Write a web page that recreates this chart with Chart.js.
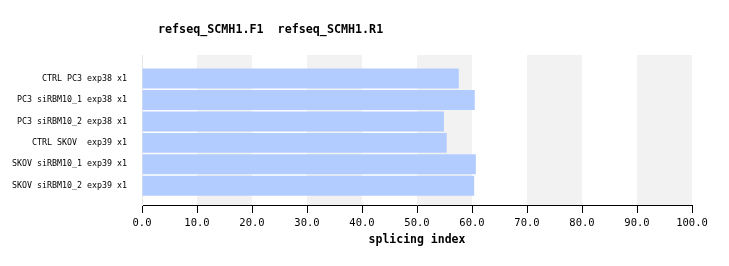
<!DOCTYPE html>
<html>
<head>
<meta charset="utf-8">
<script src="https://cdn.jsdelivr.net/npm/chart.js@4"></script>
<style>
  html, body { margin: 0; padding: 0; background: #fff; }
  #wrap { width: 729px; height: 266px; }
</style>
</head>
<body>
<div id="wrap"><canvas id="spliceChart" width="729" height="266"></canvas></div>
<script>
const samples = [
  "CTRL PC3 exp38 x1",
  "PC3 siRBM10_1 exp38 x1",
  "PC3 siRBM10_2 exp38 x1",
  "CTRL SKOV  exp39 x1",
  "SKOV siRBM10_1 exp39 x1",
  "SKOV siRBM10_2 exp39 x1"
];
const splicing = [57.6, 60.5, 54.9, 55.4, 60.7, 60.4];
const xTicks = [0, 10, 20, 30, 40, 50, 60, 70, 80, 90, 100];
const shadedBands = [[10, 20], [30, 40], [50, 60], [70, 80], [90, 100]];
const chartTitle = "refseq_SCMH1.F1  refseq_SCMH1.R1";
const axisTitle = "splicing index";

const mono = "'DejaVu Sans Mono', 'Liberation Mono', monospace";

// grey stripes behind the bars + the title line
const stripes = {
  id: "stripes",
  beforeDatasetsDraw(chart) {
    const { ctx, chartArea, scales } = chart;
    ctx.save();
    ctx.fillStyle = "#f2f2f2";
    shadedBands.forEach(([a, b]) => {
      const x0 = scales.x.getPixelForValue(a);
      const x1 = scales.x.getPixelForValue(b);
      ctx.fillRect(x0, chartArea.top, x1 - x0, chartArea.bottom - chartArea.top);
    });
    ctx.restore();
  },
  afterDraw(chart) {
    const { ctx, chartArea } = chart;
    ctx.save();
    ctx.font = "bold 11.7px " + mono;
    ctx.fillStyle = "#000";
    ctx.textBaseline = "middle";
    ctx.fillText(chartTitle, chartArea.left + 16, 30);
    ctx.restore();
  }
};

const chart = new Chart(document.getElementById("spliceChart"), {
  type: "bar",
  data: {
    datasets: [
      {
        data: splicing.map((v, i) => ({ x: v, y: i })),
        backgroundColor: "#b3ccff",
        borderWidth: 0,
        barPercentage: 0.93,
        categoryPercentage: 1.0
      }
    ]
  },
  options: {
    indexAxis: "y",
    responsive: false,
    animation: false,
    layout: { padding: { top: 55, right: 37, left: 0, bottom: 19 } },
    plugins: {
      legend: { display: false },
      tooltip: { enabled: false }
    },
    scales: {
      x: {
        type: "linear",
        min: 0,
        max: 100,
        afterBuildTicks: (scale) => { scale.ticks = xTicks.map((v) => ({ value: v })); },
        afterFit: (scale) => { scale.height = 42; },
        ticks: {
          color: "#000",
          font: { family: mono, size: 10.5 },
          padding: 4,
          maxRotation: 0,
          autoSkip: false,
          callback: (v) => v.toFixed(1)
        },
        grid: { drawOnChartArea: false, drawTicks: true, tickLength: 8, color: "#000" },
        border: { color: "#000", width: 1 },
        title: {
          display: true,
          text: axisTitle,
          color: "#000",
          font: { family: mono, size: 11.5, weight: "bold" },
          padding: { top: 4, bottom: 0 }
        }
      },
      y: {
        type: "linear",
        reverse: true,
        offset: false,
        min: -1.1,
        max: 5.9,
        afterBuildTicks: (scale) => { scale.ticks = samples.map((_, i) => ({ value: i })); },
        afterFit: (scale) => { scale.width = 142; },
        ticks: {
          color: "#000",
          font: { family: mono, size: 8.3 },
          padding: 7,
          autoSkip: false,
          callback: (v) => samples[v]
        },
        grid: { display: false, offset: false },
        border: { color: "#e6e6e6", width: 1 }
      }
    }
  },
  plugins: [stripes]
});
</script>
</body>
</html>
